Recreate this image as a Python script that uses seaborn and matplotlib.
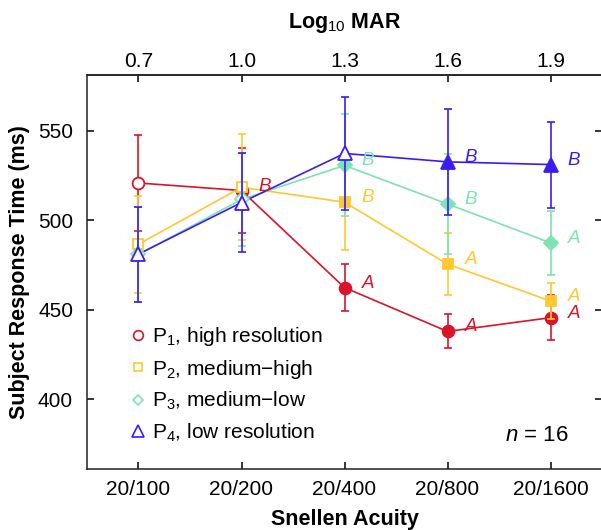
import numpy as np
import pandas as pd
import matplotlib
matplotlib.use("Agg")
import matplotlib.pyplot as plt
import seaborn as sns

# data
logmar = [0.7, 1.0, 1.3, 1.6, 1.9]
snellen = ["20/100", "20/200", "20/400", "20/800", "20/1600"]
series = ["P$_1$, high resolution", "P$_2$, medium\u2212high",
          "P$_3$, medium\u2212low", "P$_4$, low resolution"]

p1_mean = [520.7, 516.5, 462.3, 437.8, 445.5]
p1_err = [27.0, 24.0, 13.0, 9.5, 12.5]
p2_mean = [486.5, 518.3, 510.0, 475.4, 454.8]
p2_err = [27.0, 29.5, 26.5, 17.5, 10.0]
p3_mean = [480.8, 511.5, 530.5, 509.0, 487.3]
p3_err = [26.5, 26.0, 28.5, 28.0, 18.0]
p4_mean = [481.0, 509.8, 537.2, 532.5, 531.0]
p4_err = [26.5, 27.5, 31.5, 29.5, 24.0]

# open (not significant) vs filled markers
p1_filled = [False, True, True, True, True]
p2_filled = [False, False, True, True, True]
p3_filled = [False, False, True, True, True]
p4_filled = [False, False, False, True, True]

# significance letters ('' = none)
p1_letter = ["", "B", "A", "A", "A"]
p2_letter = ["", "", "B", "A", "A"]
p3_letter = ["", "", "B", "B", "A"]
p4_letter = ["", "", "", "B", "B"]

colors = ["#d9142b", "#ffc830", "#7de3b0", "#3b1cf5"]
markers = ["o", "s", "D", "^"]
msizes = [8.5, 7.5, 7.0, 10]

means = [p1_mean, p2_mean, p3_mean, p4_mean]
errs = [p1_err, p2_err, p3_err, p4_err]
filled = [p1_filled, p2_filled, p3_filled, p4_filled]
letters = [p1_letter, p2_letter, p3_letter, p4_letter]

rows = []
for name, m, e in zip(series, means, errs):
    for x, v, s in zip(logmar, m, e):
        rows.append({"logmar": x, "rt": v, "err": s, "series": name})
df = pd.DataFrame(rows)

sns.set_style("ticks")
plt.rcParams["font.family"] = ["Liberation Sans", "DejaVu Sans"]
plt.rcParams["mathtext.fontset"] = "custom"
plt.rcParams["mathtext.rm"] = "Liberation Sans"
plt.rcParams["mathtext.it"] = "Liberation Sans:italic"
plt.rcParams["mathtext.bf"] = "Liberation Sans:bold"
plt.rcParams["text.color"] = "black"
plt.rcParams["axes.labelcolor"] = "black"
plt.rcParams["axes.edgecolor"] = "#222222"
plt.rcParams["xtick.color"] = "black"
plt.rcParams["ytick.color"] = "black"

fig = plt.figure(figsize=(6.01, 5.30), dpi=100)
ax = fig.add_axes([87 / 601, 61 / 530, 515 / 601, 394 / 530])

sns.lineplot(data=df, x="logmar", y="rt", hue="series", palette=colors,
             hue_order=series, ax=ax, legend=False, linewidth=1.2,
             errorbar=None, sort=False)

for i, name in enumerate(series):
    sub = df[df["series"] == name]
    ax.errorbar(sub["logmar"], sub["rt"], yerr=sub["err"], fmt="none",
                ecolor=colors[i], elinewidth=1.2, capsize=3, capthick=1.2,
                zorder=2 + i)
    for x, v, f in zip(sub["logmar"], sub["rt"], filled[i]):
        ax.plot(x, v, marker=markers[i], ms=msizes[i], color=colors[i],
                mfc=colors[i] if f else "white", mec=colors[i], mew=1.3,
                linestyle="none", zorder=3 + i)
    for x, v, t in zip(sub["logmar"], sub["rt"], letters[i]):
        if t:
            ax.text(x + 0.05, v + 2.5, t, color=colors[i], fontsize=13.5,
                    fontstyle="italic", va="center", ha="left")

# legend with open markers
handles = [plt.Line2D([], [], marker=markers[i], color=colors[i], mfc="none",
                      linestyle="none", ms=msizes[i] - 1.5, mew=1.2)
           for i in range(4)]
ax.legend(handles, series, loc="upper left", bbox_to_anchor=(0.079, 0.365),
          frameon=False, fontsize=15, handletextpad=0.15, labelspacing=0.45,
          handlelength=1.0, borderaxespad=0.0, borderpad=0.0)

ax.text(0.935, 0.085, "$n$ = 16", transform=ax.transAxes, fontsize=16,
        ha="right", va="center")

ax.set_xlim(0.55, 2.05)
ax.set_ylim(361, 581)
ax.set_yticks([400, 450, 500, 550])
ax.set_xticks(logmar)
ax.set_xticklabels(snellen)
ax.set_xlabel("Snellen Acuity", fontsize=15.5, fontweight="bold", labelpad=7)
ax.set_ylabel("Subject Response Time (ms)", fontsize=15.5, fontweight="bold",
              labelpad=6)
ax.tick_params(direction="in", labelsize=15, length=5, right=True, width=1.1)
ax.tick_params(axis="x", pad=8)
ax.tick_params(axis="y", pad=10)

top = ax.secondary_xaxis("top")
top.set_xticks(logmar)
top.set_xticklabels([f"{v:.1f}" for v in logmar])
top.set_xlabel("Log$_{10}$ MAR", fontsize=15.5, fontweight="bold", labelpad=17)
top.tick_params(direction="in", labelsize=15, length=5, width=1.1, pad=3)

for s in ax.spines.values():
    s.set_linewidth(1.1)
top.spines["top"].set_linewidth(1.1)

fig.savefig("out.png", dpi=100)
